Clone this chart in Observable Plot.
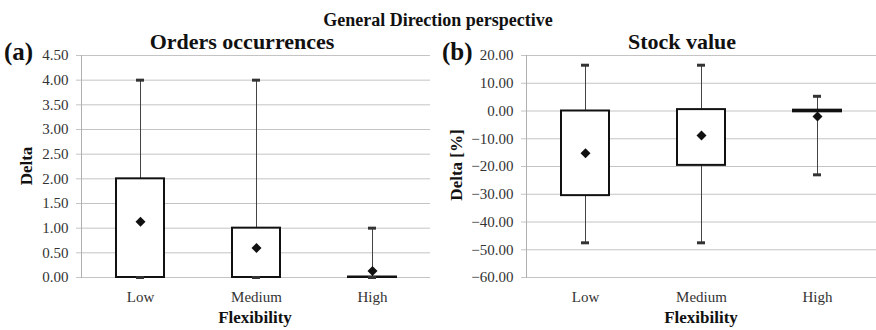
<!DOCTYPE html>
<html>
<head>
<meta charset="utf-8">
<script src="https://cdn.jsdelivr.net/npm/d3@7"></script>
<script src="https://cdn.jsdelivr.net/npm/@observablehq/plot@0.6"></script>
<style>
  html, body { margin: 0; padding: 0; background: #fff; }
  #wrap { position: relative; width: 876px; height: 330px; overflow: hidden; font-family: "Liberation Serif", "Times New Roman", serif; color: #111; }
  #wrap svg, #wrap svg text { font-family: "Liberation Serif", "Times New Roman", serif !important; }
  .abs { position: absolute; white-space: nowrap; line-height: 1; }
  .title { font-weight: bold; font-size: 18px; }
  .sub { font-weight: bold; font-size: 22px; }
  .tag { font-weight: bold; font-size: 25px; }
  .lab { font-weight: bold; font-size: 17px; }
  .panel { position: absolute; top: 0; }
</style>
</head>
<body>
<div id="wrap">
  <div id="left" class="panel" style="left:0px"></div>
  <div id="right" class="panel" style="left:438px"></div>
  <div class="abs title" style="left:438px; top:11px; transform:translateX(-50%)">General Direction perspective</div>
  <div class="abs sub" style="left:242px; top:30.5px; transform:translateX(-50%)">Orders occurrences</div>
  <div class="abs sub" style="left:682px; top:30.5px; transform:translateX(-50%)">Stock value</div>
  <div class="abs tag" style="left:4px; top:39px">(a)</div>
  <div class="abs tag" style="left:442px; top:39px">(b)</div>
  <div class="abs lab" style="left:26px; top:166px; transform:translate(-50%,-50%) rotate(-90deg)">Delta</div>
  <div class="abs lab" style="left:456px; top:165px; transform:translate(-50%,-50%) rotate(-90deg)">Delta [%]</div>
  <div class="abs lab" style="left:255px; top:309px; transform:translateX(-50%)">Flexibility</div>
  <div class="abs lab" style="left:701px; top:309px; transform:translateX(-50%)">Flexibility</div>
</div>
<script>
const categories = ["Low", "Medium", "High"];

// (a) Orders occurrences
const ordersQ1 = [0, 0, 0];
const ordersQ3 = [2, 1, 0.01];
const ordersMin = [0, 0, 0];
const ordersMax = [4, 4, 1];
const ordersMean = [1.13, 0.6, 0.13];
const ordersTicks = [0, 0.5, 1, 1.5, 2, 2.5, 3, 3.5, 4, 4.5];

// (b) Stock value
const stockQ1 = [-30.5, -19.6, -0.3];
const stockQ3 = [0, 0.5, 0.3];
const stockMin = [-47.5, -47.5, -23];
const stockMax = [16.5, 16.5, 5.3];
const stockMean = [-15.2, -8.8, -2.0];
const stockTicks = [-60, -50, -40, -30, -20, -10, 0, 10, 20];

const serif = "Liberation Serif, Times New Roman, serif";

function rows(q1, q3, mn, mx, mean) {
  return categories.map((c, i) => ({cat: c, q1: q1[i], q3: q3[i], min: mn[i], max: mx[i], mean: mean[i]}));
}

function panel(data, ticks, domain, marginLeft, marginRight, tickPadding) {
  const fmt = d3.format(".2f");
  return Plot.plot({
    width: 438,
    height: 330,
    marginLeft,
    marginRight,
    marginTop: 55,
    marginBottom: 53,
    style: {fontFamily: serif, fontSize: "15px", color: "#333", background: "transparent"},
    x: {domain: categories, padding: 0, label: null},
    y: {domain, label: null},
    marks: [
      Plot.ruleY(ticks, {stroke: "#c4c4c4", strokeWidth: 1, insetLeft: -5}),
      Plot.frame({anchor: "left", stroke: "#b0b0b0", strokeWidth: 1}),
      Plot.axisY({ticks, tickFormat: fmt, tickSize: 0, tickPadding, fontSize: 15, fontFamily: serif, fill: "#333", label: null}),
      Plot.axisX({tickSize: 0, tickPadding: 14, fontSize: 15, fontFamily: serif, fill: "#333", label: null}),
      Plot.ruleX(data, {x: "cat", y1: "min", y2: "max", stroke: "#444", strokeWidth: 1}),
      Plot.barY(data, {x: "cat", y1: "q1", y2: "q3", fill: "white", stroke: "#111", strokeWidth: 2, insetLeft: 34, insetRight: 34}),
      Plot.tickY(data, {x: "cat", y: "max", stroke: "#333", strokeWidth: 3, insetLeft: 54, insetRight: 54}),
      Plot.tickY(data, {x: "cat", y: "min", stroke: "#333", strokeWidth: 3, insetLeft: 54, insetRight: 54}),
      Plot.dot(data, {x: "cat", y: "mean", symbol: "square", rotate: 45, fill: "#111", r: 4})
    ]
  });
}

document.getElementById("left").appendChild(
  panel(rows(ordersQ1, ordersQ3, ordersMin, ordersMax, ordersMean), ordersTicks, [0, 4.5], 81, 8, 13)
);
document.getElementById("right").appendChild(
  panel(rows(stockQ1, stockQ3, stockMin, stockMax, stockMean), stockTicks, [-60, 20], 88, 0, 13)
);
</script>
</body>
</html>
